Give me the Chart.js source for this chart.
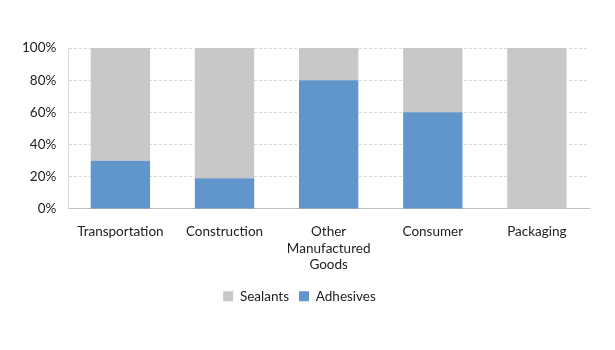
<!DOCTYPE html>
<html>
<head>
<meta charset="utf-8">
<script src="https://cdn.jsdelivr.net/npm/chart.js@4"></script>
<style>
html,body{margin:0;padding:0;background:#fff;}
#wrap{width:615px;height:350px;}
</style>
</head>
<body>
<div id="wrap"><canvas id="shareChart" width="615" height="350"></canvas></div>
<script>
const categories = [
  "Transportation",
  "Construction",
  ["Other", "Manufactured", "Goods"],
  "Consumer",
  "Packaging"
];

const adhesives = [30, 19, 80, 60, 0];
const sealants = [70, 81, 20, 40, 100];

const yTicks = [0, 20, 40, 60, 80, 100];

Chart.defaults.font.family = "Lato, 'Open Sans', sans-serif";
Chart.defaults.font.size = 13.5;
Chart.defaults.color = "#222";

const ctx = document.getElementById("shareChart");

new Chart(ctx, {
  type: "bar",
  data: {
    labels: categories,
    datasets: [
      {
        label: "Adhesives",
        data: adhesives,
        backgroundColor: "#6096CC",
        categoryPercentage: 0.57,
        barPercentage: 1
      },
      {
        label: "Sealants",
        data: sealants,
        backgroundColor: "#C8C8C8",
        categoryPercentage: 0.57,
        barPercentage: 1
      }
    ]
  },
  options: {
    responsive: false,
    animation: false,
    layout: {
      padding: { left: 10, right: 26, top: 48, bottom: 37 }
    },
    plugins: {
      legend: {
        position: "bottom",
        reverse: true,
        labels: {
          boxWidth: 10,
          boxHeight: 10,
          padding: 10,
          color: "#222"
        }
      },
      tooltip: { enabled: false }
    },
    scales: {
      x: {
        stacked: true,
        grid: { display: false },
        border: { color: "#BFBFBF" },
        ticks: { maxRotation: 0, autoSkip: false, padding: 7 }
      },
      y: {
        stacked: true,
        min: 0,
        max: 100,
        afterBuildTicks: axis => {
          axis.ticks = yTicks.map(v => ({ value: v }));
        },
        grid: { color: "#D9D9D9", tickLength: 0 },
        border: { color: "#D9D9D9", dash: [3, 2] },
        ticks: {
          padding: 12,
          callback: v => v + "%"
        }
      }
    }
  }
});
</script>
</body>
</html>
